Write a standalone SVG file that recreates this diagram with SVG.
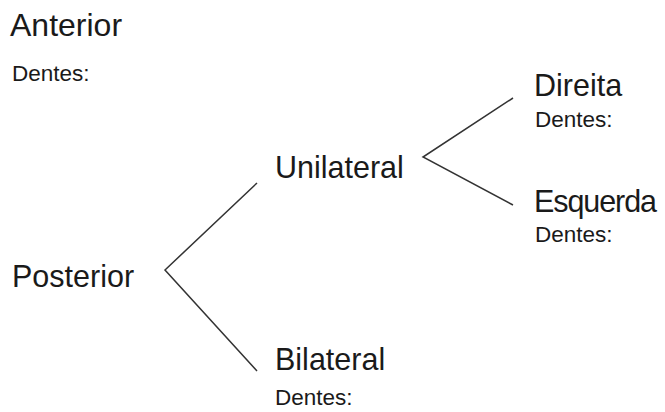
<svg xmlns="http://www.w3.org/2000/svg" width="665" height="412" viewBox="0 0 665 412">
<style>
text{font-family:"Liberation Sans",Arial,sans-serif;fill:#1a1a1a}
.h{font-size:30.5px}
.d{font-size:22.5px}
.c{fill:none;stroke:#333;stroke-width:1.5}
</style>
<rect width="665" height="412" fill="#fff"/>
<g id="connectors">
<polyline class="c" points="257,183 165,270 257,371"/>
<polyline class="c" points="513,98 423,157 513,205"/>
</g>
<g id="anterior"><text class="h" x="10" y="36" style="font-size:32px">Anterior</text><text class="d" x="12" y="81">Dentes:</text></g>
<g id="posterior"><text class="h" x="12" y="287">Posterior</text></g>
<g id="unilateral"><text class="h" x="275" y="178">Unilateral</text></g>
<g id="bilateral"><text class="h" x="275" y="370">Bilateral</text><text class="d" x="275" y="405">Dentes:</text></g>
<g id="direita"><text class="h" x="534" y="96">Direita</text><text class="d" x="535" y="127">Dentes:</text></g>
<g id="esquerda"><text class="h" x="534" y="212" textLength="123">Esquerda</text><text class="d" x="535" y="242">Dentes:</text></g>
</svg>
